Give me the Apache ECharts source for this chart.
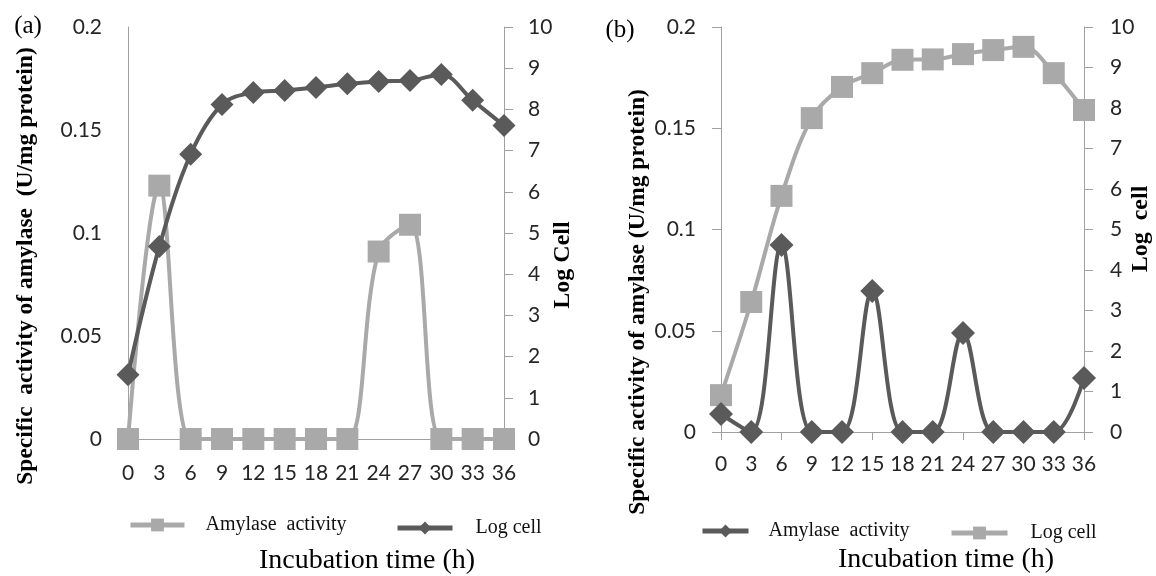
<!DOCTYPE html>
<html>
<head>
<meta charset="utf-8">
<script src="https://cdn.jsdelivr.net/npm/echarts@6/dist/echarts.min.js"></script>
<style>html,body{margin:0;padding:0;background:#fff}#c{width:1156px;height:576px}</style>
</head>
<body>
<div id="c"></div>
<script>
// Categories (incubation time, h)
const hours = ['0','3','6','9','12','15','18','21','24','27','30','33','36'];
// Panel (a)
const aAmylase = [0, 0.123, 0, 0, 0, 0, 0, 0, 0.091, 0.104, 0, 0, 0];
const aLogCell = [1.56, 4.67, 6.91, 8.12, 8.41, 8.46, 8.53, 8.62, 8.68, 8.70, 8.85, 8.22, 7.61];
// Panel (b)
const bAmylase = [0.0089, 0, 0.0923, 0, 0, 0.0696, 0, 0, 0.0489, 0, 0, 0, 0.0267];
const bLogCell = [0.91, 3.21, 5.83, 7.75, 8.52, 8.86, 9.19, 9.2, 9.33, 9.43, 9.51, 8.86, 7.95];
// Axis ticks
const leftTicks = {min: 0, max: 0.2, interval: 0.05};
const rightTicks = {min: 0, max: 10, interval: 1};

const LIGHT = '#a9a9a9';
const DARK = '#5a5a5a';
const AXIS = '#a0a0a0';
const tickFont = {fontFamily: 'Lato', fontSize: 21, color: '#262626'};
const serif = 'Liberation Serif';

const chart = echarts.init(document.getElementById('c'), null, {renderer: 'canvas'});

function xAx(grid, ticks, margin) {
  return {
    type: 'category', gridIndex: grid, data: hours, boundaryGap: false,
    axisLine: {show: true, lineStyle: {color: AXIS, width: 1}},
    axisTick: {show: ticks, length: 8, inside: false, lineStyle: {color: AXIS}},
    axisLabel: Object.assign({interval: 0, margin: margin}, tickFont),
    splitLine: {show: false}
  };
}
function yAx(grid, pos, t, ticks, margin) {
  return {
    type: 'value', gridIndex: grid, position: pos,
    min: t.min, max: t.max, interval: t.interval,
    axisLine: {show: true, lineStyle: {color: AXIS, width: 1}},
    axisTick: {show: ticks, length: 9, inside: false, lineStyle: {color: AXIS}},
    axisLabel: Object.assign({margin: margin}, tickFont),
    splitLine: {show: false}
  };
}
function ser(name, xi, yi, data, color, symbol, size) {
  return {
    name: name, type: 'line', xAxisIndex: xi, yAxisIndex: yi, data: data,
    smooth: 0.35, symbol: symbol, symbolSize: size, showSymbol: true,
    lineStyle: {color: color, width: 4},
    itemStyle: {color: color, borderWidth: 0},
    emphasis: {disabled: true}, z: symbol === 'rect' ? 2 : 3
  };
}
const names = {aA: 'Amylase  activity', aL: 'Log cell', bA: 'Amylase  activity', bL: 'Log cell'};
function leg(name, left, top, iw, pad) {
  return {
    data: [name], left: left, top: top, orient: 'horizontal',
    itemWidth: iw, itemHeight: 16, padding: 0, selectedMode: false,
    formatter: n => names[n],
    lineStyle: {width: 5},
    textStyle: {fontFamily: serif, fontSize: 20, color: '#111', lineHeight: 24, padding: pad}
  };
}
function txt(x, y, s, font, rot) {
  return {type: 'text', x: x, y: y, rotation: rot || 0,
    style: {text: s, font: font, fill: '#000', textAlign: 'center', textVerticalAlign: 'middle'}};
}

chart.setOption({
  animation: false,
  grid: [
    {left: 128, top: 27, width: 376, height: 412},
    {left: 721, top: 27, width: 363, height: 405}
  ],
  xAxis: [xAx(0, false, 24), xAx(1, true, 22)],
  yAxis: [
    yAx(0, 'left', leftTicks, false, 26),
    yAx(0, 'right', rightTicks, true, 24),
    yAx(1, 'left', leftTicks, true, 25),
    yAx(1, 'right', rightTicks, true, 26)
  ],
  legend: [
    leg('aA', 128, 509, 54, [0, 0, 8, 16]),
    leg('aL', 395, 512, 55, [0, 0, 8, 18]),
    leg('bA', 700, 514, 46, [10, 0, 0, 15]),
    leg('bL', 949, 512, 56, [18, 0, 0, 18])
  ],
  series: [
    ser('aA', 0, 0, aAmylase, LIGHT, 'rect', 22),
    ser('aL', 0, 1, aLogCell, DARK, 'diamond', 23),
    ser('bA', 1, 2, bAmylase, DARK, 'diamond', 24),
    ser('bL', 1, 3, bLogCell, LIGHT, 'rect', 22)
  ],
  graphic: [
    txt(28, 26, '(a)', '25px "Liberation Serif"'),
    txt(620, 30, '(b)', '25px "Liberation Serif"'),
    txt(26, 266, 'Specific  activity of amylase  (U/mg protein)', 'bold 23.5px "Liberation Serif"', Math.PI / 2),
    txt(638, 302, 'Specific activity of amylase (U/mg protein)', 'bold 23.5px "Liberation Serif"', Math.PI / 2),
    txt(563, 265, 'Log Cell', 'bold 24px "Liberation Serif"', Math.PI / 2),
    txt(1141, 229, 'Log  cell', 'bold 24px "Liberation Serif"', Math.PI / 2),
    txt(367, 561, 'Incubation time (h)', '28px "Liberation Serif"'),
    txt(946, 560, 'Incubation time (h)', '28px "Liberation Serif"')
  ]
});
</script>
</body>
</html>
